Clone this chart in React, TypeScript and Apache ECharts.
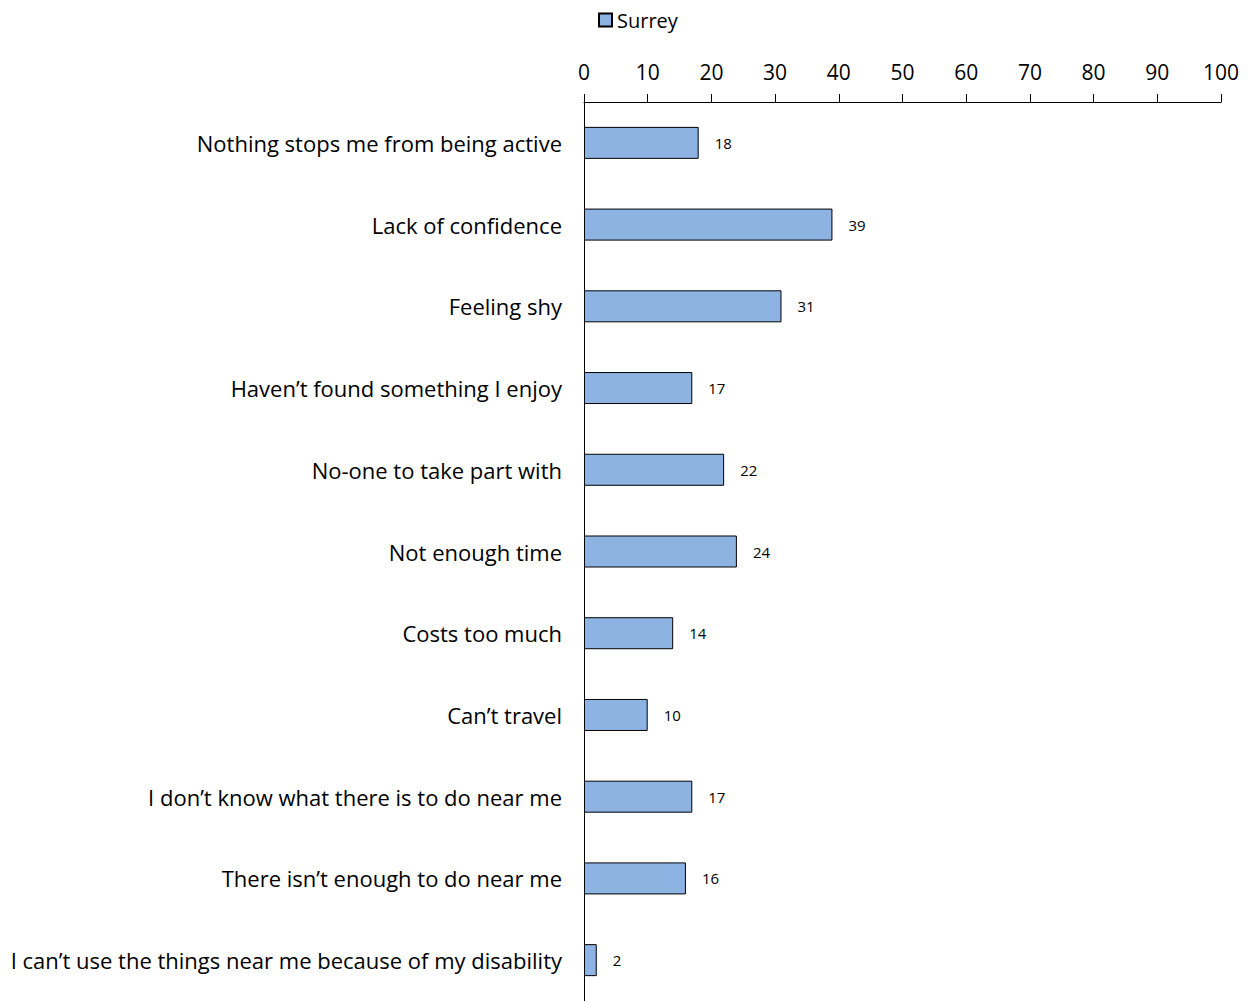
import React, { useEffect, useRef } from "react";
import * as echarts from "echarts";

const categories = [
  "Nothing stops me from being active",
  "Lack of confidence",
  "Feeling shy",
  "Haven\u2019t found something I enjoy",
  "No-one to take part with",
  "Not enough time",
  "Costs too much",
  "Can\u2019t travel",
  "I don\u2019t know what there is to do near me",
  "There isn\u2019t enough to do near me",
  "I can\u2019t use the things near me because of my disability",
];
const surrey = [18, 39, 31, 17, 22, 24, 14, 10, 17, 16, 2];
const seriesName = "Surrey";

const FONT = "Open Sans";

export default function App() {
  const ref = useRef<HTMLDivElement>(null);
  useEffect(() => {
    document.body.style.margin = "0";
    const chart = echarts.init(ref.current!, null, { renderer: "svg" });
    chart.setOption({
      animation: false,
      backgroundColor: "#ffffff",
      legend: {
        data: [{ name: seriesName, icon: "rect" }],
        left: 593,
        top: 5,
        itemWidth: 13,
        itemHeight: 13,
        itemGap: 4,
        textStyle: { fontFamily: FONT, fontSize: 20, color: "#000" },
      },
      grid: { left: 584, right: 30, top: 102, height: 900 },
      xAxis: {
        type: "value",
        position: "top",
        min: 0,
        max: 100,
        interval: 10,
        splitLine: { show: false },
        axisLine: { show: true, lineStyle: { color: "#000", width: 1 } },
        axisTick: { show: true, length: 8, lineStyle: { color: "#000" } },
        axisLabel: { margin: 20, fontFamily: FONT, fontSize: 21, color: "#000" },
      },
      yAxis: {
        type: "category",
        data: categories,
        inverse: true,
        axisLine: { show: true, lineStyle: { color: "#000", width: 1 } },
        axisTick: { show: false },
        axisLabel: { margin: 22, fontFamily: FONT, fontSize: 22, color: "#000" },
      },
      series: [
        {
          name: seriesName,
          type: "bar",
          data: surrey,
          barWidth: 32,
          itemStyle: { color: "#8DB3E2", borderColor: "#000", borderWidth: 1 },
          label: {
            show: true,
            position: "right",
            distance: 16,
            fontFamily: FONT,
            fontSize: 15,
            color: "#000",
          },
        },
      ],
    });
    return () => chart.dispose();
  }, []);
  return <div ref={ref} style={{ width: 1251, height: 1001 }} />;
}
